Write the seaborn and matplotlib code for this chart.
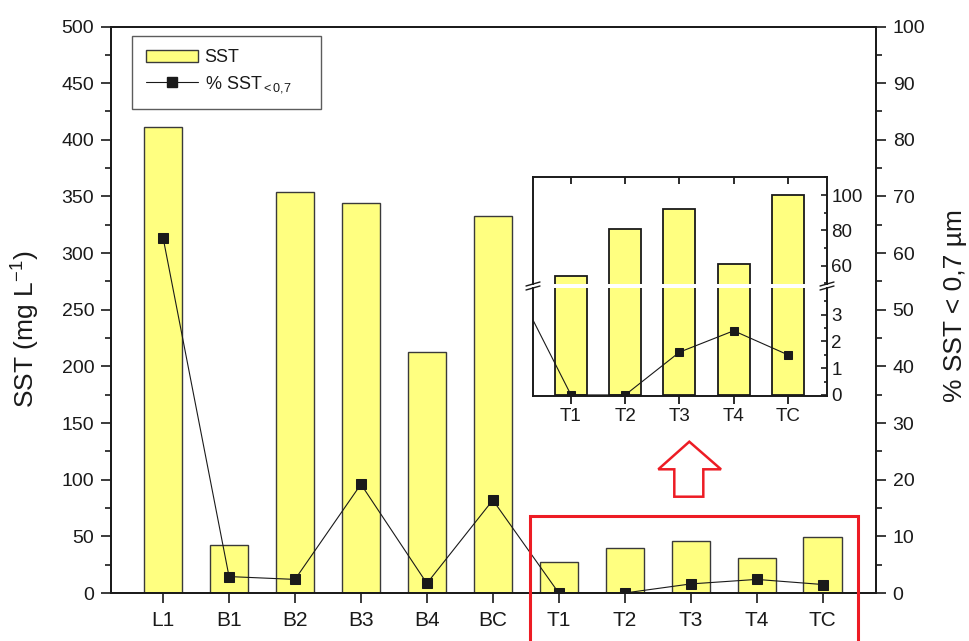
import numpy as np
import matplotlib
matplotlib.use('Agg')
import matplotlib.pyplot as plt
import seaborn as sns
from matplotlib.ticker import MultipleLocator, FixedLocator
from matplotlib.patches import Patch, Rectangle, Polygon
from matplotlib.lines import Line2D

# data
cats = ['L1', 'B1', 'B2', 'B3', 'B4', 'BC', 'T1', 'T2', 'T3', 'T4', 'TC']
sst = [411, 42, 354, 344, 213, 333, 27, 40, 45.5, 30.5, 49]
pct = [62.7, 2.9, 2.4, 19.2, 1.7, 16.4, 0.0, 0.0, 1.6, 2.4, 1.5]

inset_cats = ['T1', 'T2', 'T3', 'T4', 'TC']
inset_sst = [54, 81, 92, 61, 100]
inset_pct = pct[5:]          # BC (off to the left) + T1..TC

yellow = '#ffff80'
red = '#ed1c24'

sns.set_theme(style='white')
plt.rcParams['font.family'] = ['Liberation Sans', 'DejaVu Sans']
plt.rcParams['mathtext.fontset'] = 'custom'
plt.rcParams['mathtext.rm'] = 'Liberation Sans'
plt.rcParams['mathtext.it'] = 'Liberation Sans:italic'
plt.rcParams['mathtext.bf'] = 'Liberation Sans:bold'
plt.rcParams['text.color'] = 'k'
plt.rcParams['axes.labelcolor'] = 'k'
plt.rcParams['xtick.color'] = 'k'
plt.rcParams['ytick.color'] = 'k'

W, H = 970, 641
fig = plt.figure(figsize=(W / 100, H / 100), dpi=100)


def box(l, t, r, b):
    return [l / W, 1 - b / H, (r - l) / W, (b - t) / H]


# main chart
ax = fig.add_axes(box(111, 26.5, 876, 593))
sns.barplot(x=cats, y=sst, color=yellow, saturation=1, width=0.58,
            edgecolor='#3a3a3a', linewidth=1, errorbar=None, ax=ax)
ax.set_xlim(-0.79, 10.81)
ax.set_ylim(0, 500)
ax.yaxis.set_major_locator(MultipleLocator(50))
ax.yaxis.set_minor_locator(MultipleLocator(25))
ax.set_xlabel('')
ax.set_ylabel('SST (mg L$^{\\mathregular{-1}}$)', fontsize=19)
ax.yaxis.set_label_coords(-0.090, 0.466)
ax.tick_params(axis='y', which='major', left=True, direction='out', length=7, width=1.2,
               labelsize=14, pad=5)
ax.tick_params(axis='y', which='minor', left=True, direction='out', length=4, width=1.2)
ax.tick_params(axis='x', bottom=True, direction='out', length=7, width=1.2,
               labelsize=15, pad=6)
for s in ax.spines.values():
    s.set_color('k')
    s.set_linewidth(1.3)

ax2 = ax.twinx()
sns.lineplot(x=np.arange(len(cats)), y=pct, sort=False, color='k', lw=0.8,
             marker='s', markersize=6.5, markeredgecolor='k', ax=ax2)
ax2.set_ylim(0, 100)
ax2.yaxis.set_major_locator(MultipleLocator(10))
ax2.yaxis.set_minor_locator(MultipleLocator(5))
ax2.set_ylabel('% SST < 0,7 µm', fontsize=19)
ax2.yaxis.set_label_coords(1.087, 0.508)
ax2.tick_params(axis='y', which='major', right=True, direction='out', length=7, width=1.2,
                labelsize=14, pad=5)
ax2.tick_params(axis='y', which='minor', right=True, direction='out', length=4, width=1.2)
ax2.grid(False)
for s in ax2.spines.values():
    s.set_color('k')
    s.set_linewidth(1.3)

handles = [Patch(facecolor=yellow, edgecolor='#3a3a3a', lw=1),
           Line2D([], [], color='k', lw=0.8, marker='s', ms=6.5)]
lx0 = (132.3 - 111) / 765
ly1 = (593 - 35.7) / 566.5
lw_ = (321 - 132.3) / 765
lh_ = (108 - 35.7) / 566.5
leg = ax2.legend(handles, ['SST', '% SST$_{{<}0{,}7}$'], loc='upper left',
                 bbox_to_anchor=(lx0, ly1 - lh_, lw_, lh_), mode='expand',
                 borderaxespad=0, fontsize=13, frameon=True, fancybox=False,
                 edgecolor='#333333', handlelength=2.9, handleheight=0.7,
                 handletextpad=0.35, borderpad=0.75, labelspacing=0.45)
leg.get_frame().set_linewidth(1.0)

# zoomed inset with a broken y axis
axu = fig.add_axes(box(533, 177, 827, 284))
axl = fig.add_axes(box(533, 288, 827, 396))
for a in (axu, axl):
    sns.barplot(x=inset_cats, y=inset_sst, color=yellow, saturation=1, width=0.59,
                edgecolor='k', linewidth=1.3, errorbar=None, ax=a)
    a.set_xlim(-0.70, 4.72)
    a.set_xlabel('')
    a.set_ylabel('')
    a.set_facecolor('white')
    a.yaxis.tick_right()
    for s in a.spines.values():
        s.set_color('k')
        s.set_linewidth(1.4)

axu.set_ylim(49.6, 110.2)
axu.yaxis.set_major_locator(FixedLocator([60, 80, 100]))
axu.yaxis.set_minor_locator(FixedLocator([50, 70, 90, 110]))
axu.spines['bottom'].set_visible(False)
axu.tick_params(axis='x', top=True, bottom=False, direction='in', length=5, width=1.3,
                labelbottom=False, labeltop=False)
axu.tick_params(axis='y', which='major', left=False, right=True, direction='in',
                length=4, width=1.2, labelsize=13.5, pad=3)
axu.tick_params(axis='y', which='minor', left=False, right=True, direction='in',
                length=2.5, width=1.2)

lower_top = 4.0
sns.lineplot(x=np.arange(-1, len(inset_cats)), y=np.minimum(inset_pct, lower_top),
             sort=False, color='k', lw=0.8, marker='s', markersize=5.5,
             markeredgecolor='k', ax=axl)
axl.set_xlim(-0.70, 4.72)
axl.set_ylim(-0.04, lower_top)
axl.yaxis.set_major_locator(FixedLocator([0, 1, 2, 3]))
axl.yaxis.set_minor_locator(FixedLocator([0.5, 1.5, 2.5, 3.5]))
axl.spines['top'].set_visible(False)
axl.tick_params(axis='x', bottom=True, top=False, direction='out', length=5.5, width=1.3,
                labelsize=13.5, pad=3)
axl.tick_params(axis='y', which='major', left=False, right=True, direction='in',
                length=4, width=1.2, labelsize=13.5, pad=3)
axl.tick_params(axis='y', which='minor', left=False, right=True, direction='in',
                length=2.5, width=1.2)

# break marks
for xb in (533, 827):
    for yb in (284, 288):
        fig.add_artist(Line2D([(xb - 7) / W, (xb + 7) / W],
                              [1 - (yb + 2) / H, 1 - (yb - 2) / H],
                              color='k', lw=1.0))

# red box and hollow arrow
fig.add_artist(Rectangle((530 / W, 1 - 660 / H), (857.7 - 530) / W, (660 - 516) / H,
                         fill=False, edgecolor=red, lw=2.2, transform=fig.transFigure))
arrow_px = [(689.3, 441.7), (721, 469.3), (703.3, 469.3), (703.3, 496.7),
            (674.3, 496.7), (674.3, 469.3), (658.3, 469.3)]
fig.add_artist(Polygon([(x / W, 1 - y / H) for x, y in arrow_px], closed=True,
                       fill=False, edgecolor=red, lw=1.8, transform=fig.transFigure))

fig.savefig('out.png', dpi=100)
